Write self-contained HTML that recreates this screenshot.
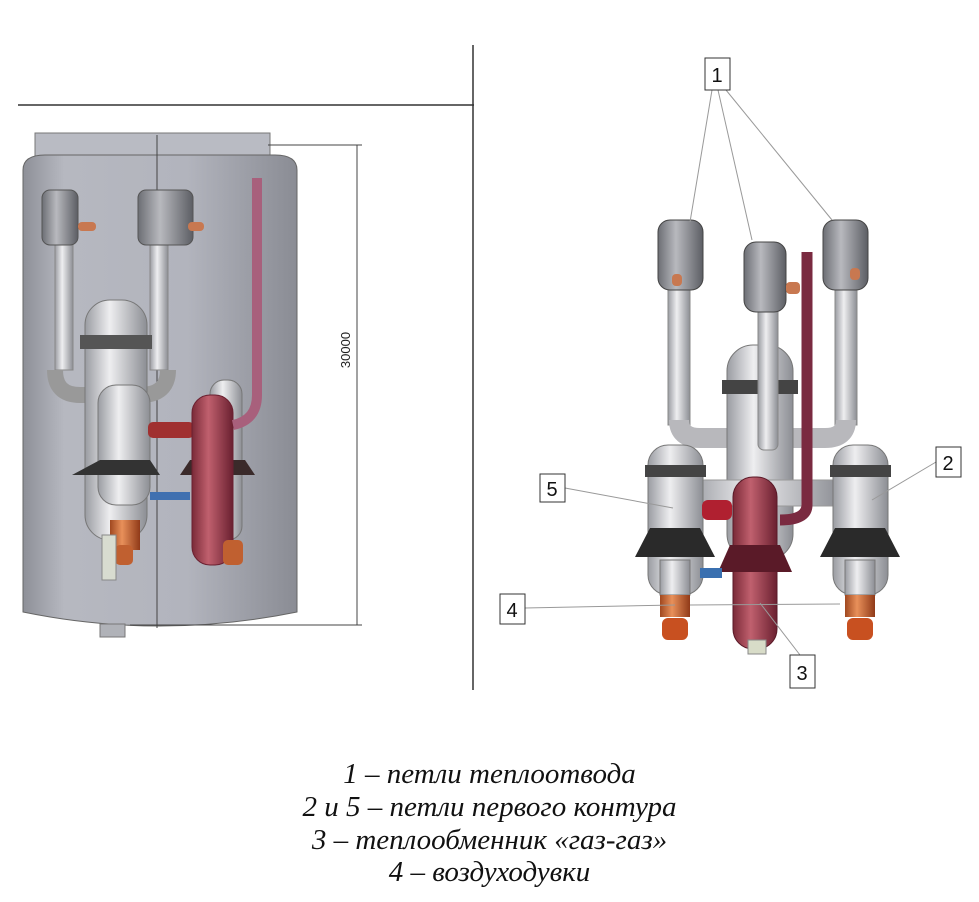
<!DOCTYPE html>
<html><head><meta charset="utf-8"><style>
html,body{margin:0;padding:0;background:#fff;width:979px;height:902px;overflow:hidden}
.cap{position:absolute;left:0;width:979px;text-align:center;font-family:"Liberation Serif",serif;font-style:italic;font-size:29px;line-height:33px;color:#111}
</style></head><body>
<svg width="979" height="902" style="position:absolute;left:0;top:0">
<defs>
<linearGradient id="vg" x1="0" x2="1"><stop offset="0" stop-color="#8e9098"/><stop offset=".15" stop-color="#b6b8c0"/><stop offset=".6" stop-color="#b2b4bd"/><stop offset="1" stop-color="#8a8c94"/></linearGradient>
<linearGradient id="pg" x1="0" x2="1"><stop offset="0" stop-color="#9a9ca2"/><stop offset=".4" stop-color="#eeeef0"/><stop offset="1" stop-color="#8c8e94"/></linearGradient>
<linearGradient id="hg" x1="0" x2="1"><stop offset="0" stop-color="#6c6e74"/><stop offset=".4" stop-color="#b8b9be"/><stop offset="1" stop-color="#5c5e64"/></linearGradient>
<linearGradient id="rg" x1="0" x2="1"><stop offset="0" stop-color="#7a2a38"/><stop offset=".4" stop-color="#c0606e"/><stop offset="1" stop-color="#6a2030"/></linearGradient>
<linearGradient id="cg" x1="0" x2="1"><stop offset="0" stop-color="#a04820"/><stop offset=".4" stop-color="#e8905a"/><stop offset="1" stop-color="#903a18"/></linearGradient>
</defs>
<line x1="18" y1="105" x2="474" y2="105" stroke="#333" stroke-width="1.5"/>
<line x1="473" y1="45" x2="473" y2="690" stroke="#333" stroke-width="1.5"/>
<rect x="35" y="133" width="235" height="25" fill="#b9bbc3" stroke="#777"/>
<path d="M23 170 Q23 155 45 155 L275 155 Q297 155 297 170 L297 612 Q160 640 23 612 Z" fill="url(#vg)" stroke="#666"/>
<rect x="100" y="624" width="25" height="13" fill="#b0b2b8" stroke="#777"/>
<line x1="157" y1="135" x2="157" y2="628" stroke="#444"/>
<line x1="268" y1="145" x2="362" y2="145" stroke="#444"/>
<line x1="130" y1="625" x2="362" y2="625" stroke="#444"/>
<line x1="357" y1="145" x2="357" y2="625" stroke="#444"/>
<text x="350" y="350" transform="rotate(-90 350 350)" font-family="Liberation Sans,sans-serif" font-size="13" fill="#222" text-anchor="middle">30000</text>
<rect x="55" y="240" width="18" height="130" fill="url(#pg)" stroke="#888"/>
<rect x="150" y="240" width="18" height="130" fill="url(#pg)" stroke="#888"/>
<path d="M55 370 Q55 395 80 395 L140 395 Q168 395 168 370" fill="none" stroke="#999" stroke-width="16"/>
<rect x="42" y="190" width="36" height="55" rx="8" fill="url(#hg)" stroke="#555"/>
<rect x="138" y="190" width="55" height="55" rx="8" fill="url(#hg)" stroke="#555"/>
<rect x="78" y="222" width="18" height="9" rx="4" fill="#c87850"/>
<rect x="188" y="222" width="16" height="9" rx="4" fill="#c87850"/>
<rect x="85" y="300" width="62" height="240" rx="25" fill="url(#pg)" stroke="#777"/>
<rect x="80" y="335" width="72" height="14" fill="#555"/>
<rect x="98" y="385" width="52" height="120" rx="18" fill="url(#pg)" stroke="#777"/>
<path d="M72 475 L160 475 L150 460 L100 460 Z" fill="#333"/>
<rect x="110" y="520" width="30" height="30" fill="url(#cg)"/>
<rect x="115" y="545" width="18" height="20" rx="5" fill="#c06030"/>
<rect x="102" y="535" width="14" height="45" fill="#d8dcd0" stroke="#888"/>
<rect x="148" y="422" width="46" height="16" rx="5" fill="#a03030"/>
<rect x="150" y="492" width="40" height="8" fill="#4070b0"/>
<rect x="210" y="380" width="32" height="160" rx="14" fill="url(#pg)" stroke="#777"/>
<path d="M180 475 L255 475 L245 460 L190 460 Z" fill="#3a2a2a"/>
<rect x="192" y="395" width="41" height="170" rx="18" fill="url(#rg)" stroke="#6a2030"/>
<rect x="223" y="540" width="20" height="25" rx="5" fill="#c06030"/>
<path d="M257 178 L257 395 Q257 420 233 425" fill="none" stroke="#a8607c" stroke-width="10"/>
<rect x="668" y="285" width="22" height="140" fill="url(#pg)" stroke="#888"/>
<rect x="835" y="285" width="22" height="140" fill="url(#pg)" stroke="#888"/>
<path d="M679 420 Q679 438 700 438 L735 438" fill="none" stroke="#b8b8bc" stroke-width="20"/>
<path d="M846 420 Q846 438 825 438 L790 438" fill="none" stroke="#b8b8bc" stroke-width="20"/>
<rect x="727" y="345" width="66" height="215" rx="26" fill="url(#pg)" stroke="#777"/>
<rect x="722" y="380" width="76" height="14" fill="#444"/>
<rect x="758" y="300" width="20" height="150" rx="6" fill="url(#pg)" stroke="#888"/>
<rect x="690" y="480" width="150" height="26" fill="url(#pg)" stroke="#999"/>
<rect x="648" y="445" width="55" height="150" rx="20" fill="url(#pg)" stroke="#777"/>
<rect x="645" y="465" width="61" height="12" fill="#444"/>
<path d="M635 557 L715 557 L700 528 L650 528 Z" fill="#2a2a2a"/>
<rect x="660" y="560" width="30" height="35" fill="url(#pg)" stroke="#777"/>
<rect x="660" y="595" width="30" height="22" fill="url(#cg)"/>
<rect x="662" y="618" width="26" height="22" rx="6" fill="#c85020"/>
<rect x="833" y="445" width="55" height="150" rx="20" fill="url(#pg)" stroke="#777"/>
<rect x="830" y="465" width="61" height="12" fill="#444"/>
<path d="M820 557 L900 557 L885 528 L835 528 Z" fill="#2a2a2a"/>
<rect x="845" y="560" width="30" height="35" fill="url(#pg)" stroke="#777"/>
<rect x="845" y="595" width="30" height="22" fill="url(#cg)"/>
<rect x="847" y="618" width="26" height="22" rx="6" fill="#c85020"/>
<rect x="658" y="220" width="45" height="70" rx="12" fill="url(#hg)" stroke="#444"/>
<rect x="744" y="242" width="42" height="70" rx="12" fill="url(#hg)" stroke="#444"/>
<rect x="823" y="220" width="45" height="70" rx="12" fill="url(#hg)" stroke="#444"/>
<rect x="672" y="274" width="10" height="12" rx="4" fill="#c87850"/>
<rect x="786" y="282" width="14" height="12" rx="4" fill="#c87850"/>
<rect x="850" y="268" width="10" height="12" rx="4" fill="#c87850"/>
<rect x="702" y="500" width="30" height="20" rx="6" fill="#b02030"/>
<rect x="733" y="477" width="44" height="172" rx="20" fill="url(#rg)" stroke="#5a1a28"/>
<path d="M718 572 L792 572 L780 545 L730 545 Z" fill="#5a1a28"/>
<rect x="748" y="640" width="18" height="14" fill="#d8dcc8" stroke="#888"/>
<path d="M807 252 L807 505 Q807 520 780 520" fill="none" stroke="#7a2a40" stroke-width="11"/>
<rect x="700" y="568" width="22" height="10" fill="#3a70b0"/>
<g stroke="#999" stroke-width="1" fill="none">
<line x1="712" y1="90" x2="690" y2="222"/>
<line x1="718" y1="90" x2="752" y2="240"/>
<line x1="726" y1="90" x2="832" y2="220"/>
<line x1="936" y1="462" x2="872" y2="500"/>
<line x1="565" y1="488" x2="673" y2="508"/>
<line x1="525" y1="608" x2="675" y2="605"/>
<line x1="690" y1="605" x2="840" y2="604"/>
<line x1="800" y1="655" x2="760" y2="603"/>
</g>
<g font-family="Liberation Sans,sans-serif" font-size="20" fill="#111" text-anchor="middle">
<rect x="705" y="58" width="25" height="32" fill="#fff" stroke="#333"/><text x="717" y="82">1</text>
<rect x="936" y="447" width="25" height="30" fill="#fff" stroke="#333"/><text x="948" y="470">2</text>
<rect x="540" y="474" width="25" height="28" fill="#fff" stroke="#333"/><text x="552" y="496">5</text>
<rect x="500" y="594" width="25" height="30" fill="#fff" stroke="#333"/><text x="512" y="617">4</text>
<rect x="790" y="655" width="25" height="33" fill="#fff" stroke="#333"/><text x="802" y="680">3</text>
</g>
</svg>
<div class="cap" style="top:758px">1 – петли теплоотвода</div>
<div class="cap" style="top:791px">2 и 5 – петли первого контура</div>
<div class="cap" style="top:824px">3 – теплообменник «газ-газ»</div>
<div class="cap" style="top:856px">4 – воздуходувки</div>
</body></html>
